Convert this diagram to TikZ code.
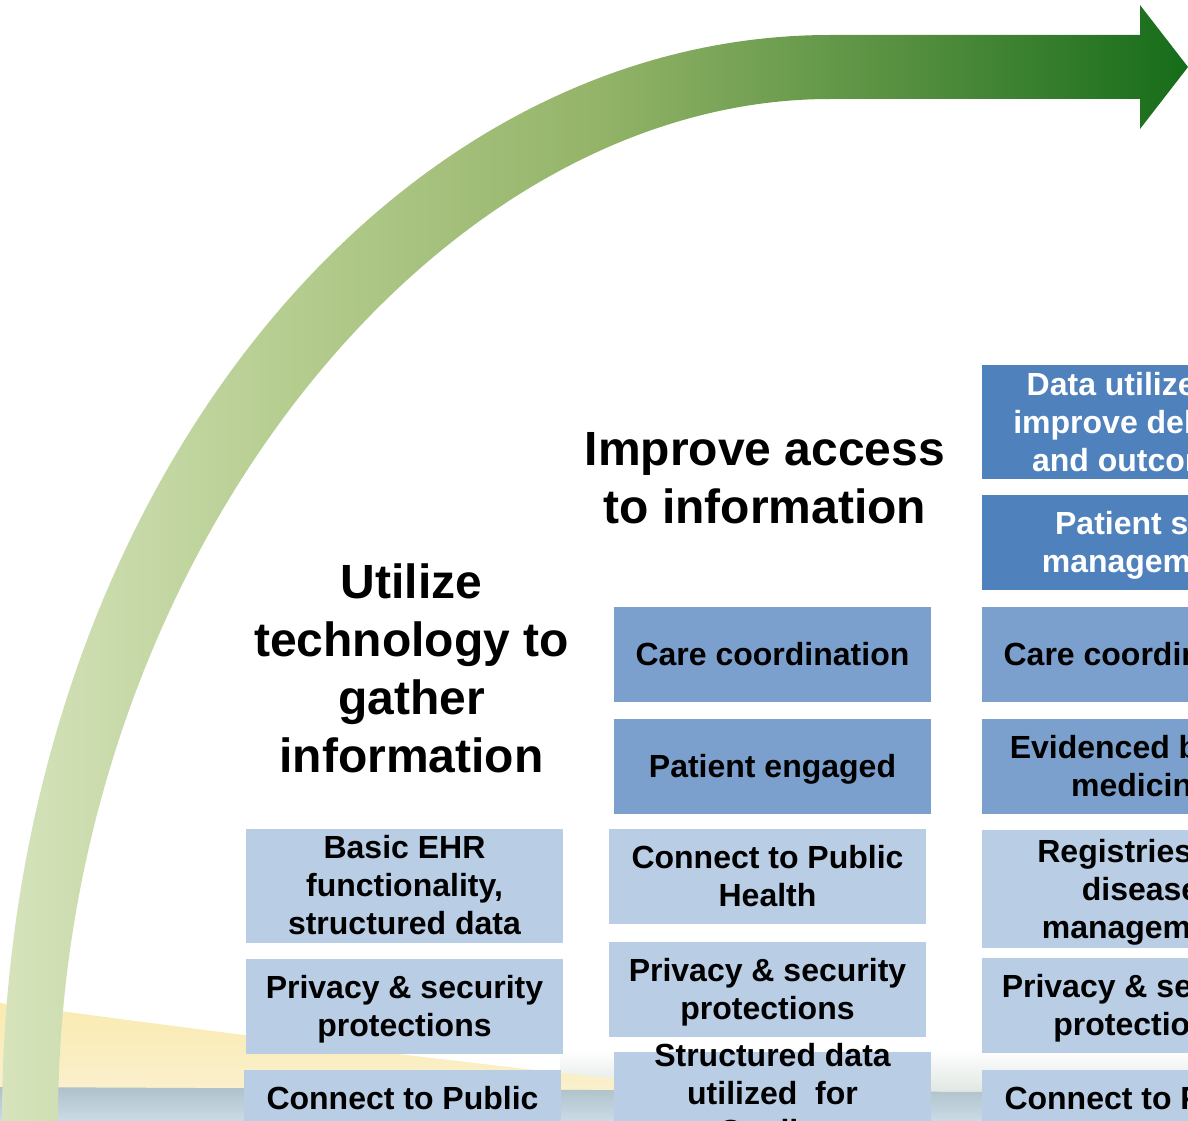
\documentclass[tikz,border=0pt]{standalone}
\usepackage{fontspec}
\setmainfont{Liberation Sans}

\definecolor{azulosc}{RGB}{79,129,189}
\definecolor{azulmed}{RGB}{123,160,205}
\definecolor{azulclaro}{RGB}{185,205,229}
\definecolor{verdeA}{RGB}{214,227,188}
\definecolor{verdeB}{RGB}{180,204,142}
\definecolor{verdeC}{RGB}{148,180,105}
\definecolor{verdeD}{RGB}{88,145,65}
\definecolor{verdeE}{RGB}{22,108,26}
\definecolor{amarillo}{RGB}{245,218,112}
\definecolor{crema}{RGB}{250,240,205}
\definecolor{neblina}{RGB}{222,230,224}
\definecolor{gris}{RGB}{174,194,201}
\definecolor{grisclaro}{RGB}{203,218,231}

% degradado de la flecha, de verde claro a verde oscuro
\pgfdeclarehorizontalshading{flechaverde}{100bp}{color(0bp)=(verdeA); color(25bp)=(verdeA);
  color(37.5bp)=(verdeB); color(50bp)=(verdeC); color(62.5bp)=(verdeD); color(75bp)=(verdeE);
  color(100bp)=(verdeE)}

\newcommand{\cuerpo}{\fontsize{32}{38}\selectfont\bfseries}
\newcommand{\titular}{\fontsize{48}{58}\selectfont\bfseries}
% puntal para que todas las lineas midan lo mismo
\newcommand{\linea}{\vrule width 0pt height 30pt depth 8pt\relax}

\begin{document}
\begin{tikzpicture}[x=1pt,y=-1pt,
    texto/.style={inner sep=0pt,text width=317pt,align=flush center,font=\cuerpo,
      execute at begin node=\linea,execute at end node=\linea},
    caja/.style={texto,minimum width=317pt,minimum height=95pt},
    cajaosc/.style={caja,fill=azulosc,text=white},
    cajamed/.style={caja,fill=azulmed},
    cajaclara/.style={caja,fill=azulclaro},
    titulo/.style={align=center,font=\titular,inner sep=0pt}]
  \useasboundingbox (0,0) rectangle (1188,1121);
  \clip (0,0) rectangle (1188,1121);

  % Fondo: bruma, colina amarilla y franja gris abajo
  \shade[top color=white, bottom color=neblina]
    (560,1050) -- (1188,1050) -- (1188,1094) -- (560,1090) -- cycle;
  \shade[top color=amarillo!55!white, middle color=amarillo, bottom color=crema]
    (0,1003) .. controls (200,1030) and (450,1062) .. (720,1090) -- (0,1092) -- cycle;
  \shade[top color=gris, bottom color=grisclaro]
    (0,1087) -- (1188,1093) -- (1188,1121) -- (0,1121) -- cycle;

  % Flecha curva con degradado
  \shade[shading=flechaverde] (2,1121) .. controls (2,511) and (380,35) .. (830,35)
    -- (1140,35) -- (1140,5) -- (1188,67) -- (1140,129) -- (1140,99) -- (830,99)
    .. controls (430,99) and (58,571) .. (58,1121) -- cycle;

  % Titulos de las etapas
  \node[titulo] (tit1) at (411.5,668) {Utilize\\technology to\\gather\\information};
  \node[titulo] (tit2) at (765,478) {Improve access\\to information};

  % Primera columna
  \node[cajaclara,minimum height=111pt] (ehr) at (404.5,885.5) {Basic EHR\\functionality,\\structured data};
  \node[cajaclara] (priv1) at (404.5,1006.5) {Privacy \& security\\protections};
  \node[cajaclara] (salud1) at (402.5,1117.5) {Connect to Public\\Health};

  % Segunda columna
  \node[cajamed] (coord2) at (772.5,654.5) {Care coordination};
  \node[cajamed] (paciente) at (772.5,766.5) {Patient engaged};
  \node[cajaclara] (salud2) at (767.5,876.5) {Connect to Public\\Health};
  \node[cajaclara] (priv2) at (767.5,989.5) {Privacy \& security\\protections};
  \node[cajaclara] (sdatos) at (772.5,1099.5) {};
  \node[texto] (sdatostxt) at (772.5,1093) {Structured data\\utilized\ \ for\\Quality};

  % Tercera columna
  \node[cajaosc,minimum height=112pt] (datos) at (1140.5,422) {Data utilized to\\improve delivery\\and outcomes};
  \node[cajaosc] (autogestion) at (1140.5,542.5) {Patient self\\management};
  \node[cajamed] (coord3) at (1140.5,654.5) {Care coordination};
  \node[cajamed] (evidencia) at (1140.5,766.5) {Evidenced based\\medicine};
  \node[cajaclara,minimum height=118pt] (registros) at (1140.5,889) {Registries for\\disease\\management};
  \node[cajaclara] (priv3) at (1140.5,1005.5) {Privacy \& security\\protections};
  \node[cajaclara] (salud3) at (1140.5,1117.5) {Connect to Public\\Health};
\end{tikzpicture}
\end{document}
